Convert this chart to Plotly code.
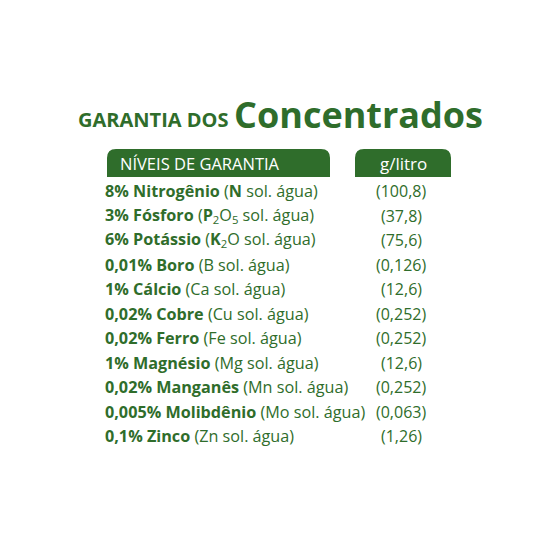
import plotly.graph_objects as go

pcts = ["8%", "3%", "6%", "0,01%", "1%", "0,02%", "0,02%", "1%", "0,02%", "0,005%", "0,1%"]
names = ["Nitrogênio", "Fósforo", "Potássio", "Boro", "Cálcio", "Cobre", "Ferro", "Magnésio", "Manganês", "Molibdênio", "Zinco"]
symbols = ["<b>N</b>", "<b>P</b><sub>2</sub>O<sub>5</sub>", "<b>K</b><sub>2</sub>O", "B", "Ca", "Cu", "Fe", "Mg", "Mn", "Mo", "Zn"]
values = ["(100,8)", "(37,8)", "(75,6)", "(0,126)", "(12,6)", "(0,252)", "(0,252)", "(12,6)", "(0,252)", "(0,063)", "(1,26)"]

G = "#2f6d2b"
W = H = 558
OFF = 8
def px(x): return (x - OFF) / W
def py(y): return 1 - (y - OFF) / H

fig = go.Figure()
fig.update_layout(width=W, height=H, margin=dict(l=0, r=0, t=0, b=0),
                  paper_bgcolor="white", plot_bgcolor="white",
                  xaxis=dict(visible=False, range=[0, W]), yaxis=dict(visible=False, range=[H, 0]))

def header(x0, x1, y0, y1, r=9):
    x0 -= OFF; x1 -= OFF; y0 -= OFF; y1 -= OFF
    path = (f"M {x0},{y1} L {x0},{y0+r} Q {x0},{y0} {x0+r},{y0} L {x1-r},{y0} "
            f"Q {x1},{y0} {x1},{y0+r} L {x1},{y1} Z")
    fig.add_shape(type="path", path=path, fillcolor=G, line=dict(width=0), layer="below")

header(107, 330, 149, 177)
header(355, 451, 149, 177)

ann = []
ann.append(dict(x=px(76), y=py(119), text="<b>GARANTIA DOS</b>", font=dict(size=20, color=G, family="Open Sans"), xanchor="left", yanchor="middle"))
ann.append(dict(x=px(485), y=py(114), text="<b>Concentrados</b>", font=dict(size=36, color=G, family="Open Sans"), xanchor="right", yanchor="middle"))
ann.append(dict(x=px(118), y=py(163), text="NÍVEIS DE GARANTIA", font=dict(size=16.5, color="white", family="Open Sans"), xanchor="left", yanchor="middle"))
ann.append(dict(x=px(403), y=py(163), text="g/litro", font=dict(size=17, color="white", family="Open Sans"), xanchor="center", yanchor="middle"))

for i in range(len(names)):
    y = 191 + i * 24.5
    ann.append(dict(x=px(103), y=py(y), text=f"<b>{pcts[i]} {names[i]}</b> ({symbols[i]} sol. água)",
                    font=dict(size=16.2, color=G, family="Open Sans"), xanchor="left", yanchor="middle"))
    ann.append(dict(x=px(401), y=py(y), text=values[i],
                    font=dict(size=16, color=G, family="Open Sans"), xanchor="center", yanchor="middle"))

for a in ann:
    a.update(xref="paper", yref="paper", showarrow=False)
fig.update_layout(annotations=ann)
fig.write_html("out.html")
